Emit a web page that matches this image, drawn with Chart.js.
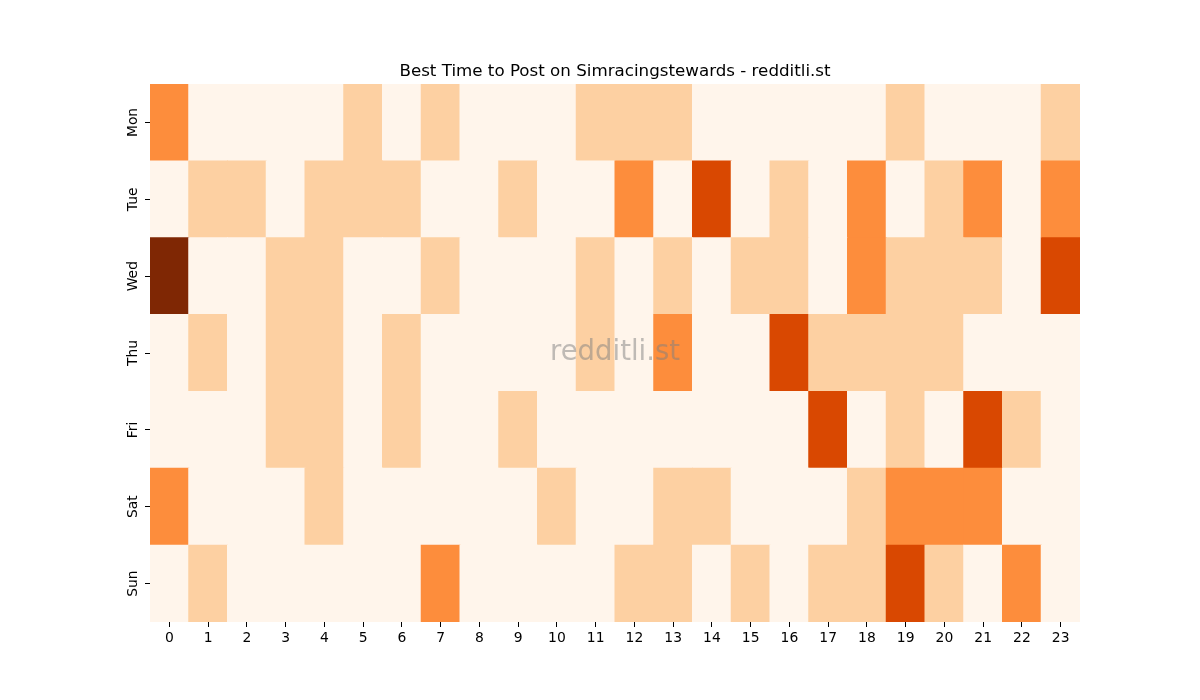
<!DOCTYPE html>
<html>
<head>
<meta charset="utf-8">
<script src="https://cdn.jsdelivr.net/npm/chart.js@4"></script>
<style>
  html, body { margin: 0; padding: 0; background: #fff; }
  #wrap { width: 1200px; height: 700px; }
</style>
</head>
<body>
<div id="wrap"><canvas id="heat" width="1200" height="700"></canvas></div>
<script>
/* ---------- DATA (colour level 0-4 per hour) ---------- */
const hours = ["0","1","2","3","4","5","6","7","8","9","10","11","12","13","14","15","16","17","18","19","20","21","22","23"];
const days = ["Mon", "Tue", "Wed", "Thu", "Fri", "Sat", "Sun"];

const mon = [2,0,0,0,0,1,0,1,0,0,0,1,1,1,0,0,0,0,0,1,0,0,0,1];
const tue = [0,1,1,0,1,1,1,0,0,1,0,0,2,0,3,0,1,0,2,0,1,2,0,2];
const wed = [4,0,0,1,1,0,0,1,0,0,0,1,0,1,0,1,1,0,2,1,1,1,0,3];
const thu = [0,1,0,1,1,0,1,0,0,0,0,1,0,2,0,0,3,1,1,1,1,0,0,0];
const fri = [0,0,0,1,1,0,1,0,0,1,0,0,0,0,0,0,0,3,0,1,0,3,1,0];
const sat = [2,0,0,0,1,0,0,0,0,0,1,0,0,1,1,0,0,0,1,2,2,2,0,0];
const sun = [0,1,0,0,0,0,0,2,0,0,0,0,1,1,0,1,0,1,1,3,1,0,2,0];

const rows = [mon, tue, wed, thu, fri, sat, sun];

// Oranges colormap steps
const palette = ["#fff5eb", "#fdd0a2", "#fd8d3c", "#d94801", "#7f2704"];

const FONT = "'DejaVu Sans', sans-serif";

/* ---------- DATASETS (bottom row first) ---------- */
const datasets = rows.slice().reverse().map((row, i) => ({
  label: days[days.length - 1 - i],
  data: row.map(() => 1),
  backgroundColor: row.map(v => palette[v]),
  borderWidth: 0,
  inflateAmount: 0.5,
  categoryPercentage: 1,
  barPercentage: 1
}));

/* ---------- EXTRA DRAWING: day labels + watermark ---------- */
const dayLabels = {
  id: "dayLabels",
  afterDraw(c) {
    const ctx = c.ctx;
    const y = c.scales.y;
    const area = c.chartArea;
    ctx.save();
    ctx.fillStyle = "#000";
    ctx.font = "13.9px " + FONT;
    ctx.textAlign = "center";
    ctx.textBaseline = "middle";
    days.forEach((d, i) => {
      const py = y.getPixelForValue(days.length - i - 0.5);
      ctx.save();
      ctx.translate(area.left - 17, py);
      ctx.rotate(-Math.PI / 2);
      ctx.fillText(d, 0, 0);
      ctx.restore();
    });

    ctx.font = "27.5px " + FONT;
    ctx.fillStyle = "rgba(128,128,128,0.5)";
    ctx.fillText("redditli.st", (area.left + area.right) / 2, (area.top + area.bottom) / 2);
    ctx.restore();
  }
};

new Chart(document.getElementById("heat"), {
  type: "bar",
  data: { labels: hours, datasets },
  options: {
    responsive: false,
    animation: false,
    layout: { padding: { left: 150, right: 120, top: 0, bottom: 37 } },
    plugins: {
      legend: { display: false },
      tooltip: { enabled: false },
      title: {
        display: true,
        text: "Best Time to Post on Simracingstewards - redditli.st",
        color: "#000",
        font: { family: FONT, size: 16.7, weight: "normal" },
        padding: { top: 62, bottom: 2 }
      }
    },
    scales: {
      x: {
        stacked: true,
        offset: true,
        border: { display: false },
        grid: {
          offset: false,
          drawOnChartArea: false,
          drawTicks: true,
          tickLength: 5,
          color: "#000"
        },
        ticks: {
          color: "#000",
          font: { family: FONT, size: 13.9 },
          padding: 3,
          maxRotation: 0
        },
        afterFit(s) { s.height = 41; }
      },
      y: {
        stacked: true,
        min: 0,
        max: 7,
        border: { display: false },
        afterBuildTicks(s) {
          s.ticks = days.map((d, i) => ({ value: i + 0.5 }));
        },
        grid: {
          drawOnChartArea: false,
          drawTicks: true,
          tickLength: 5,
          color: "#000"
        },
        ticks: { display: false },
        afterFit(s) { s.width = 0; }
      }
    }
  },
  plugins: [dayLabels]
});
</script>
</body>
</html>
